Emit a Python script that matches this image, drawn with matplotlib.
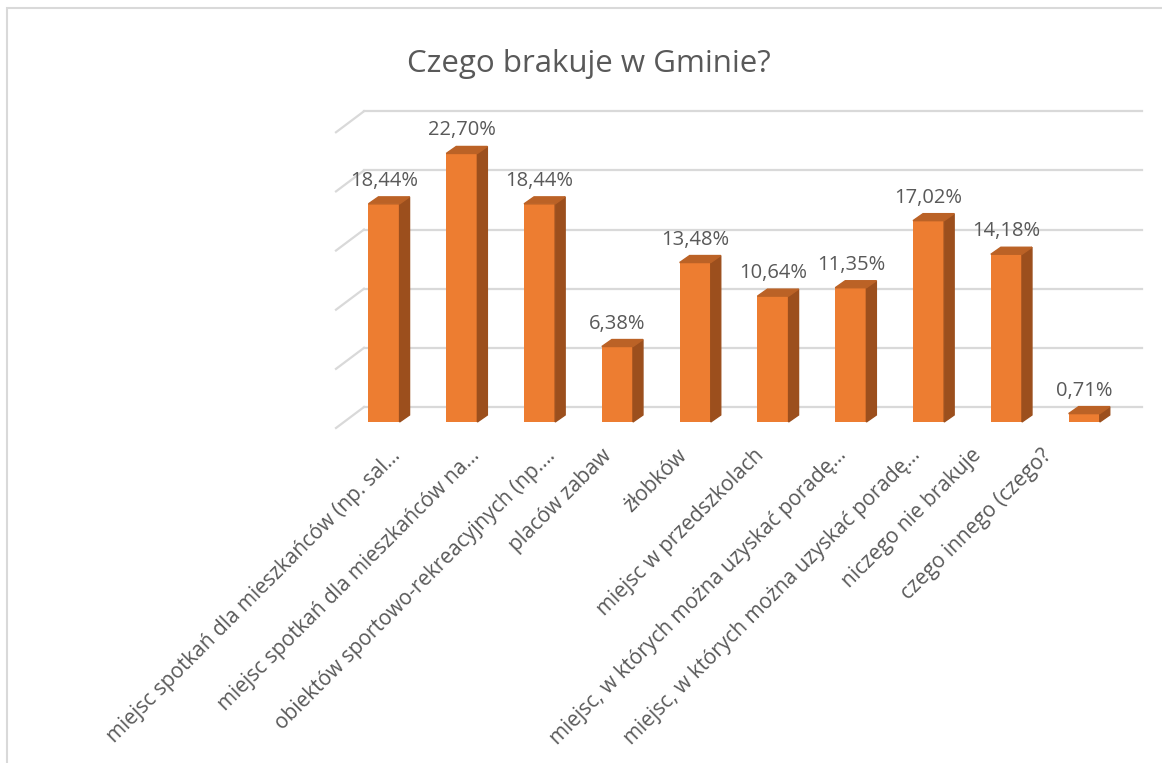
import matplotlib
matplotlib.use('Agg')
import matplotlib.pyplot as plt
from matplotlib.patches import Polygon, Rectangle

plt.rcParams['font.family'] = ['Open Sans', 'DejaVu Sans']

# Data
categories = [
    'miejsc spotkań dla mieszkańców (np. sal…',
    'miejsc spotkań dla mieszkańców na…',
    'obiektów sportowo-rekreacyjnych (np.…',
    'placów zabaw',
    'żłobków',
    'miejsc w przedszkolach',
    'miejsc, w których można uzyskać poradę…',
    'miejsc, w których można uzyskać poradę…',
    'niczego nie brakuje',
    'czego innego (czego?',
]
values = [18.44, 22.70, 18.44, 6.38, 13.48, 10.64, 11.35, 17.02, 14.18, 0.71]
value_labels = ['18,44%', '22,70%', '18,44%', '6,38%', '13,48%',
                '10,64%', '11,35%', '17,02%', '14,18%', '0,71%']
grid_values = [0, 5, 10, 15, 20, 25]

# layout (pixels of the 1162x763 picture)
W, H = 1162, 763
X0, Y0 = 384, 422          # centre of first bar, base of bars
PX_X, PX_Y = 77.8, 11.83   # pixels per category, pixels per percent
label_dx = [6, 7, 5, -16, -19, -20, -15, -19, -36, -43]

front = '#ED7D31'
side = '#9C4F1D'
top = '#BB6226'
grid_c = '#D9D9D9'
text_c = '#595959'


def px(dx):
    return dx / PX_X


def py(dy):
    return dy / PX_Y


fig = plt.figure(figsize=(W / 100, H / 100), dpi=100)
ax = fig.add_axes([0, 0, 1, 1])
ax.set_xlim(-X0 / PX_X, (W - X0) / PX_X)
ax.set_ylim((Y0 - H) / PX_Y, Y0 / PX_Y)
ax.axis('off')

# chart border
fig.patches.append(Rectangle((7 / W, -0.01), 1.1, 1 - 8 / H + 0.01,
                             transform=fig.transFigure, fill=False,
                             edgecolor=grid_c, lw=1.5))

# walls' gridlines (back wall and left side wall)
for g in grid_values:
    ax.plot([px(364 - X0), px(1142 - X0)], [g + py(15), g + py(15)],
            color=grid_c, lw=1.6, zorder=1)
    ax.plot([px(336 - X0), px(364 - X0)], [g - py(6), g + py(15)],
            color=grid_c, lw=1.6, zorder=1)

# 3D-looking columns
bw = 0.4
ddx, ddy = px(10), py(7)
xs = list(range(len(values)))
ax.bar(xs, values, width=bw, color=front, zorder=3)
for x, v in zip(xs, values):
    r = x + bw / 2
    l = x - bw / 2
    ax.add_patch(Polygon([(r, 0), (r + ddx, ddy), (r + ddx, v + ddy), (r, v)],
                         closed=True, color=side, zorder=3))
    ax.add_patch(Polygon([(l, v), (r, v), (r + ddx, v + ddy), (l + ddx, v + ddy)],
                         closed=True, color=top, zorder=3))

# value labels
for x, v, lab in zip(xs, values, value_labels):
    ax.text(x, v + ddy + py(11), lab, ha='center', va='baseline',
            fontsize=14.5, color=text_c, zorder=4)

# category labels
for x, lab, d in zip(xs, categories, label_dx):
    ax.text(x + px(d), py(Y0 - 445), lab, rotation=45, rotation_mode='anchor',
            ha='right', va='top', fontsize=15, color=text_c)

ax.text(px(589 - X0), py(Y0 - 72), 'Czego brakuje w Gminie?', ha='center',
        va='baseline', fontsize=22.5, color=text_c)

fig.savefig('out.png', dpi=100, facecolor='white')
